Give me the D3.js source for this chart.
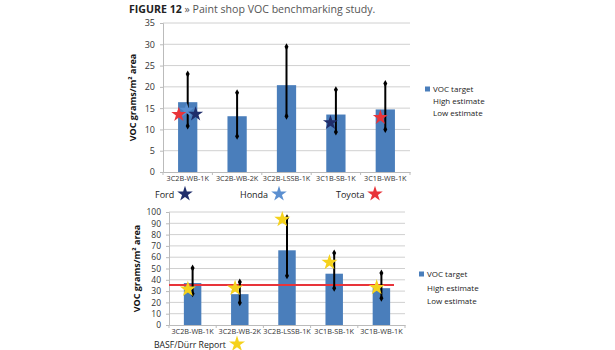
<!DOCTYPE html>
<html><head><meta charset="utf-8">
<script src="https://cdn.jsdelivr.net/npm/d3@7"></script>
<style>
body{margin:0;background:#fff;}
text{font-family:"Open Sans",sans-serif;}
</style></head><body>
<svg id="c" width="615" height="350"></svg>
<script>
const categories = ["3C2B-WB-1K","3C2B-WB-2K","3C2B-LSSB-1K","3C1B-SB-1K","3C1B-WB-1K"];
// Top chart
const topTarget = [16.4, 13.1, 20.4, 13.5, 14.7];
const topHigh   = [23.0, 18.6, 29.4, 19.3, 20.8];
const topLow    = [10.8, 8.4, 13.1, 9.4, 10.0];
const topTicks  = [0,5,10,15,20,25,30,35];
// OEM stars: [category index, value, offset within band]
const fordStars   = [[0, 13.6, 0.16],[3, 11.6, -0.11]];
const hondaStars  = [[0, 14.5, -0.02]];
const toyotaStars = [[0, 13.5, -0.18],[4, 12.8, -0.1]];
// Bottom chart
const botTarget = [37.1, 27.3, 66.1, 45.4, 32.6];
const botHigh   = [50.4, 38.0, 94.9, 63.8, 46.0];
const botLow    = [27.6, 19.6, 43.6, 32.6, 23.7];
const basfStars = [31.7, 32.6, 93.4, 55.4, 33.2];
const botTicks  = [0,10,20,30,40,50,60,70,80,90,100];
const refLine   = 35.5;
const legendItems = ["VOC target","High estimate","Low estimate"];

const svg = d3.select("#c");
const barColor = "#4a7ebb";

svg.append("text").attr("x",129).attr("y",13).attr("font-size",10.6).attr("fill","#333")
  .call(t=>{t.append("tspan").attr("font-weight","bold").attr("fill","#222").text("FIGURE 12");
            t.append("tspan").attr("fill","#555").text(" » Paint shop VOC benchmarking study.");});

function chart(opt){
  const g = svg.append("g");
  const x = d3.scaleBand().domain(categories).range([opt.x0,opt.x1]);
  const y = d3.scaleLinear().domain([0,opt.max]).range([opt.y0,opt.y1]);
  g.selectAll(".grid").data(opt.ticks.slice(1)).join("line")
    .attr("x1",opt.x0).attr("x2",opt.x1).attr("y1",d=>y(d)).attr("y2",d=>y(d))
    .attr("stroke","#d0d0d0").attr("stroke-width",1);
  const ya = g.append("g").attr("transform",`translate(${opt.x0},0)`)
    .call(d3.axisLeft(y).tickValues(opt.ticks).tickSize(3).tickPadding(5));
  ya.select(".domain").attr("stroke","#bbb");
  ya.selectAll(".tick line").attr("stroke","#bbb");
  ya.selectAll(".tick text").attr("font-size",opt.tickFont).attr("fill","#333").attr("font-family","Open Sans");
  const xa = g.append("g").attr("transform",`translate(0,${opt.y0})`)
    .call(d3.axisBottom(x).tickSize(0).tickPadding(4));
  xa.select(".domain").attr("stroke","#bbb");
  xa.selectAll(".tick text").attr("font-size",7.3).attr("fill","#333").attr("font-family","Open Sans");
  g.selectAll(".sep").data(d3.range(categories.length+1)).join("line")
    .attr("x1",i=>opt.x0+i*x.step()).attr("x2",i=>opt.x0+i*x.step())
    .attr("y1",opt.y0).attr("y2",opt.y0+3).attr("stroke","#bbb");
  const bw = x.bandwidth()*opt.bw;
  g.selectAll(".bar").data(opt.target).join("rect")
    .attr("x",(d,i)=>x(categories[i])+x.bandwidth()/2-bw/2)
    .attr("y",d=>y(d)).attr("width",bw).attr("height",d=>opt.y0-y(d))
    .attr("fill",barColor);
  if(opt.ref!==undefined){
    g.append("line").attr("x1",opt.x0).attr("x2",opt.x1-11)
      .attr("y1",y(opt.ref)).attr("y2",y(opt.ref)).attr("stroke","#e8343a").attr("stroke-width",2);
  }
  const cx = i=>x(categories[i])+x.bandwidth()/2;
  g.selectAll(".err").data(opt.high).join("line")
    .attr("x1",(d,i)=>cx(i)).attr("x2",(d,i)=>cx(i))
    .attr("y1",d=>y(d)).attr("y2",(d,i)=>y(opt.low[i]))
    .attr("stroke","#000").attr("stroke-width",2);
  const diam = d3.symbol().type(d3.symbolDiamond).size(14);
  opt.high.forEach((d,i)=>{
    [d,opt.low[i]].forEach(v=>g.append("path").attr("d",diam())
      .attr("transform",`translate(${cx(i)},${y(v)})`).attr("fill","#000"));
  });
  (opt.stars||[]).forEach(s=>{
    s.data.forEach(p=>{
      g.append("path").attr("d",d3.symbol().type(d3.symbolStar).size(s.size)())
        .attr("transform",`translate(${cx(p[0])+p[2]*x.bandwidth()},${y(p[1])})`)
        .attr("fill",s.color);
    });
  });
  g.append("text").attr("transform",`translate(${opt.lx},${(opt.y0+opt.y1)/2}) rotate(-90)`)
    .attr("text-anchor","middle").attr("font-size",9).attr("font-weight","bold").attr("fill","#111")
    .text("VOC grams/m² area");
  legendItems.forEach((t,i)=>{
    if(i===0) g.append("rect").attr("x",opt.legX-8).attr("y",opt.legY-2.5).attr("width",5).attr("height",5).attr("fill",barColor);
    g.append("text").attr("x",opt.legX).attr("y",opt.legY+i*opt.legStep+3).attr("font-size",8).attr("fill","#222").text(t);
  });
  return {x,y};
}

chart({x0:163,x1:410,y0:172,y1:23,max:35,ticks:topTicks,tickFont:9,target:topTarget,high:topHigh,low:topLow,bw:0.39,
  lx:136,legX:433,legY:89,legStep:12.2,
  stars:[{data:hondaStars,color:"#5b8fd0",size:70},{data:toyotaStars,color:"#e8343a",size:70},{data:fordStars,color:"#1f2d6b",size:70}]});

chart({x0:169,x1:405,y0:325,y1:212,max:100,ticks:botTicks,tickFont:8.5,target:botTarget,high:botHigh,low:botLow,bw:0.37,
  ref:refLine,lx:140,legX:427,legY:274,legStep:13.7,
  stars:[{data:basfStars.map((v,i)=>[i,v,-0.1]),color:"#f5d21c",size:80}]});

const oem = [["Ford",155,"#1f2d6b",185],["Honda",240,"#5b8fd0",279],["Toyota",336,"#e8343a",375]];
oem.forEach(o=>{
  svg.append("text").attr("x",o[1]).attr("y",197.5).attr("font-size",9).attr("fill","#222").text(o[0]);
  svg.append("path").attr("d",d3.symbol().type(d3.symbolStar).size(75)()).attr("transform",`translate(${o[3]},194)`).attr("fill",o[2]);
});
svg.append("text").attr("x",154).attr("y",348).attr("font-size",8.7).attr("fill","#222").text("BASF/Dürr Report");
svg.append("path").attr("d",d3.symbol().type(d3.symbolStar).size(80)()).attr("transform",`translate(237,344)`).attr("fill","#f5d21c");
</script></body></html>
